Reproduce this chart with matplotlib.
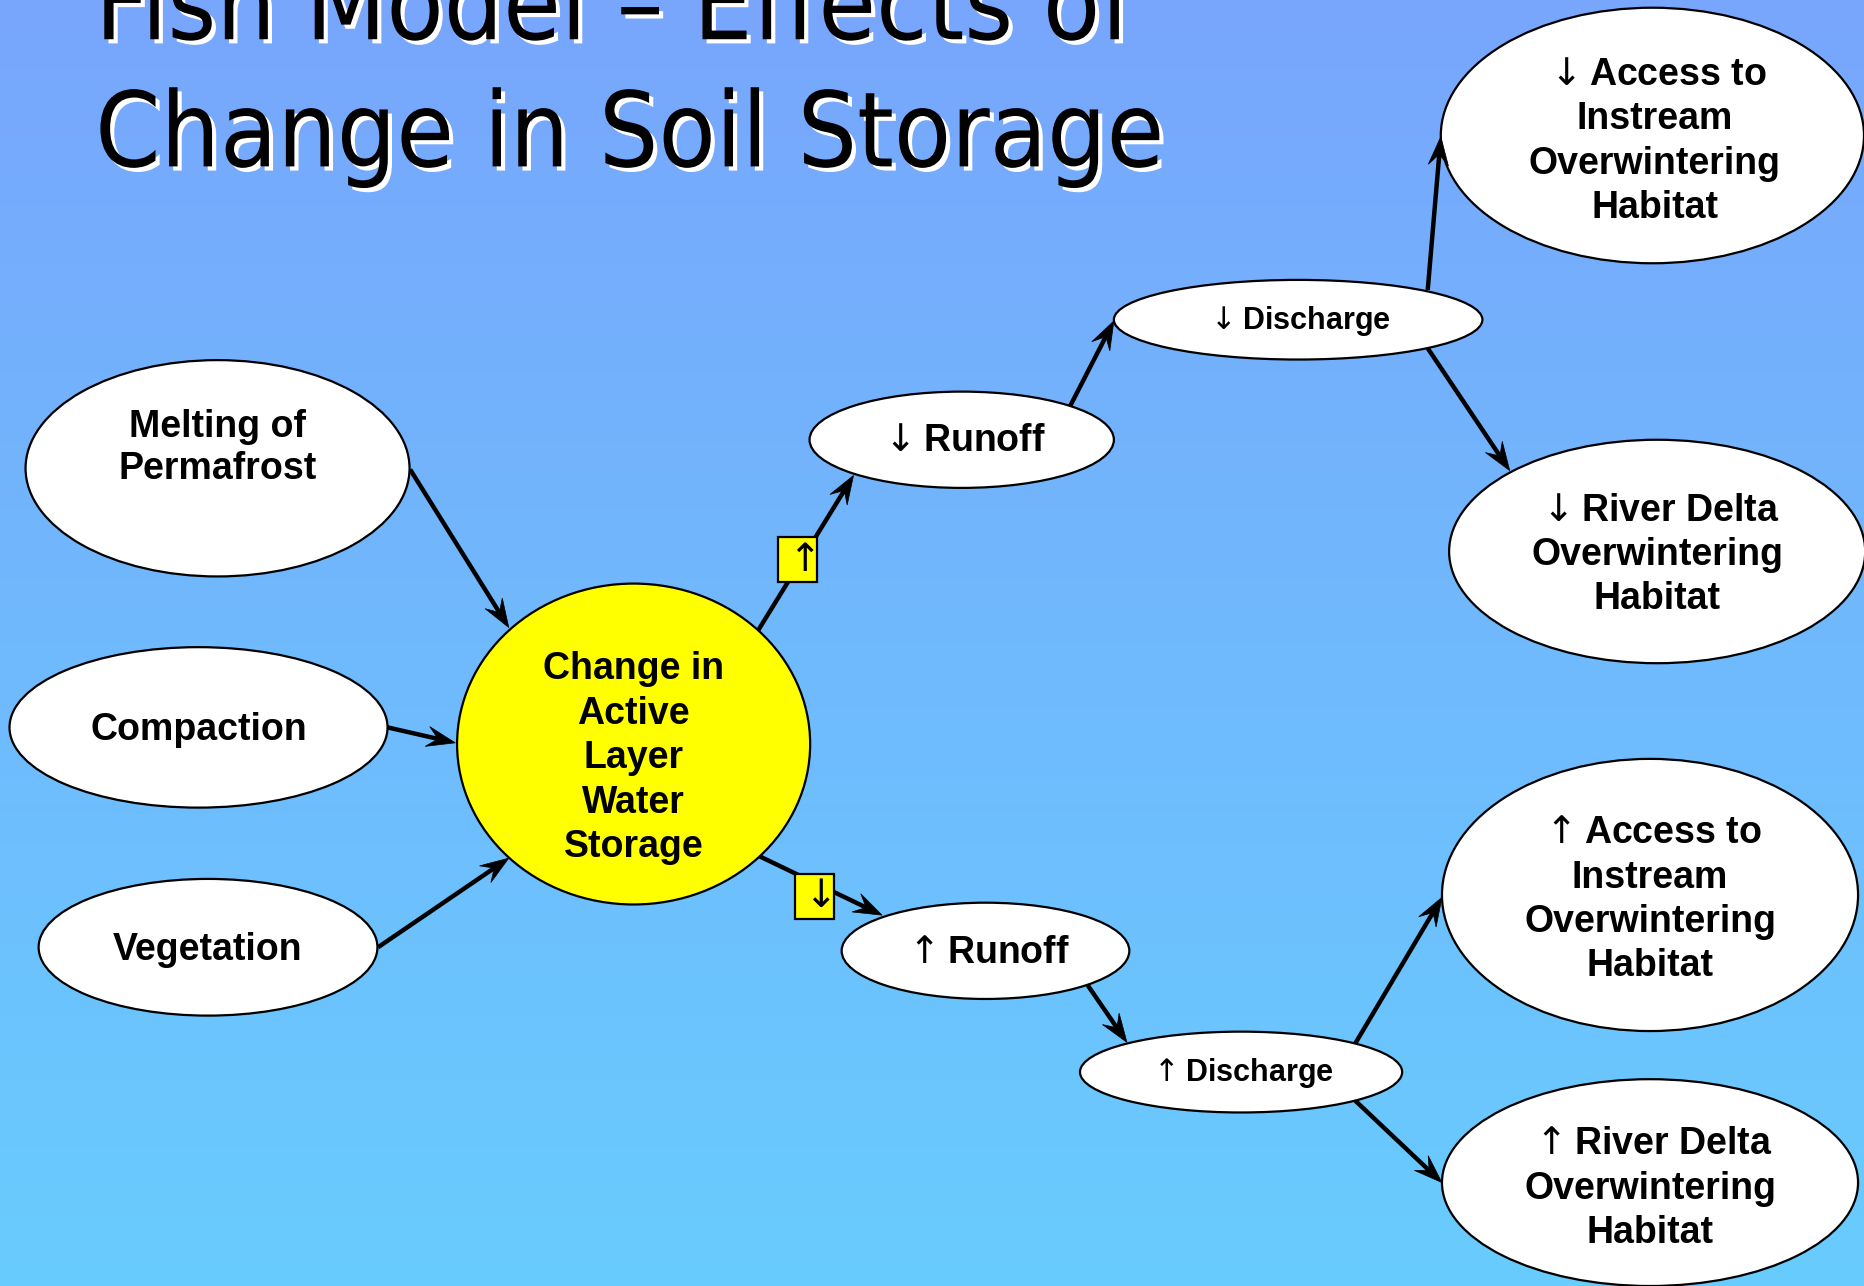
import numpy as np
import matplotlib.pyplot as plt
from matplotlib.patches import Ellipse, Rectangle, Polygon
import matplotlib.patheffects as pe

plt.rcParams['mathtext.fontset'] = 'dejavusans'

DN = r"$\downarrow$"
UP = r"$\uparrow$"

# 节点文字
labels = [
    "Melting of\nPermafrost",
    "Compaction",
    "Vegetation",
    "Change in\nActive\nLayer\nWater\nStorage",
    DN + "Runoff",
    DN + "Discharge",
    DN + "Access to\nInstream\nOverwintering\nHabitat",
    DN + "River Delta\nOverwintering\nHabitat",
    UP + "Runoff",
    UP + "Discharge",
    UP + "Access to\nInstream\nOverwintering\nHabitat",
    UP + "River Delta\nOverwintering\nHabitat",
]
# 节点位置与大小 (画布坐标 1568x1082)
node_x = [183, 167, 175, 533, 809, 1092, 1390, 1394, 829, 1044, 1388, 1388]
node_y = [394, 612, 797, 626, 370, 269, 114, 464, 800, 902, 753, 995]
node_w = [323, 318, 285, 297, 256, 310, 356, 350, 242, 271, 350, 350]
node_h = [182, 135, 115, 270, 81, 67, 215, 188, 81, 68, 229, 174]
text_x = [183, 167, 175, 533, 809, 1092, 1392, 1394, 829, 1044, 1388, 1388]
text_y = [377, 614, 799, 638, 371, 270, 119, 467, 802, 903, 757, 1000]
text_size = [27, 27, 27, 27, 27, 22, 27, 27, 27, 22, 27, 27]
text_spacing = [1.2, 1.2, 1.2, 1.3, 1.2, 1.2, 1.3, 1.3, 1.2, 1.2, 1.3, 1.3]
face = ['white'] * 12
face[3] = '#ffff00'

# 连线 (起点, 终点)
edges = [
    ((345, 395), (428, 528)),
    ((326, 612), (383, 625)),
    ((318, 797), (428, 722)),
    ((638, 530), (718, 400)),
    ((900, 342), (937, 270)),
    ((1201, 244), (1212, 115)),
    ((1201, 293), (1270, 396)),
    ((638, 720), (742, 770)),
    ((915, 829), (948, 877)),
    ((1140, 878), (1213, 755)),
    ((1140, 926), (1213, 995)),
]

# 黄色小方框
box_x = [671, 685]
box_y = [471, 754]
box_text = [UP, DN]

title_lines = ["Fish Model \u2013 Effects of", "Change in Soil Storage"]
title_y = [33, 140]

W, H = 1568, 1082
fig = plt.figure(figsize=(18.64, 12.86), dpi=100)
ax = fig.add_axes([0, 0, 1, 1])
ax.set_xlim(0, W)
ax.set_ylim(H, 0)
ax.axis('off')

# 背景渐变
top = np.array([120, 166, 252]) / 255
bottom = np.array([104, 204, 254]) / 255
t = np.linspace(0, 1, 256)[:, None, None]
grad = top * (1 - t) + bottom * t
ax.imshow(grad, extent=[0, W, H, 0], aspect='auto', zorder=0)

fam = ['Liberation Sans', 'DejaVu Sans']

# 标题
for line, y in zip(title_lines, title_y):
    ax.text(80, y, line, fontsize=75, family='DejaVu Sans', fontstretch='condensed',
            color='black', va='baseline', ha='left', zorder=5,
            path_effects=[pe.withSimplePatchShadow(offset=(3, -3), shadow_rgbFace='white', alpha=1.0)])


def arrow(p0, p1):
    p0 = np.array(p0, float)
    p1 = np.array(p1, float)
    d = (p1 - p0) / np.hypot(*(p1 - p0))
    n = np.array([-d[1], d[0]])
    L, Wd = 24, 8.5
    notch = p1 - d * L * 0.62
    ax.plot([p0[0], notch[0]], [p0[1], notch[1]], color='black', lw=3.2,
            solid_capstyle='butt', zorder=1)
    base = p1 - d * L
    ax.add_patch(Polygon([p1, base + n * Wd, notch, base - n * Wd], closed=True,
                         facecolor='black', edgecolor='black', lw=0.5, zorder=3))


for p0, p1 in edges:
    arrow(p0, p1)

for i in range(len(labels)):
    ax.add_patch(Ellipse((node_x[i], node_y[i]), node_w[i], node_h[i],
                         facecolor=face[i], edgecolor='black', lw=1.6, zorder=2))
    ax.text(text_x[i], text_y[i], labels[i], fontsize=text_size[i], family=fam,
            fontweight='bold', ha='center', va='center', multialignment='center',
            linespacing=text_spacing[i], zorder=4)

for bx, by, s in zip(box_x, box_y, box_text):
    ax.add_patch(Rectangle((bx - 16.5, by - 19), 33, 38, facecolor='#ffff00',
                           edgecolor='black', lw=1.6, zorder=3))
    ax.text(bx, by, s, fontsize=28, ha='center', va='center', zorder=4)

fig.savefig('out.png', dpi=100)
